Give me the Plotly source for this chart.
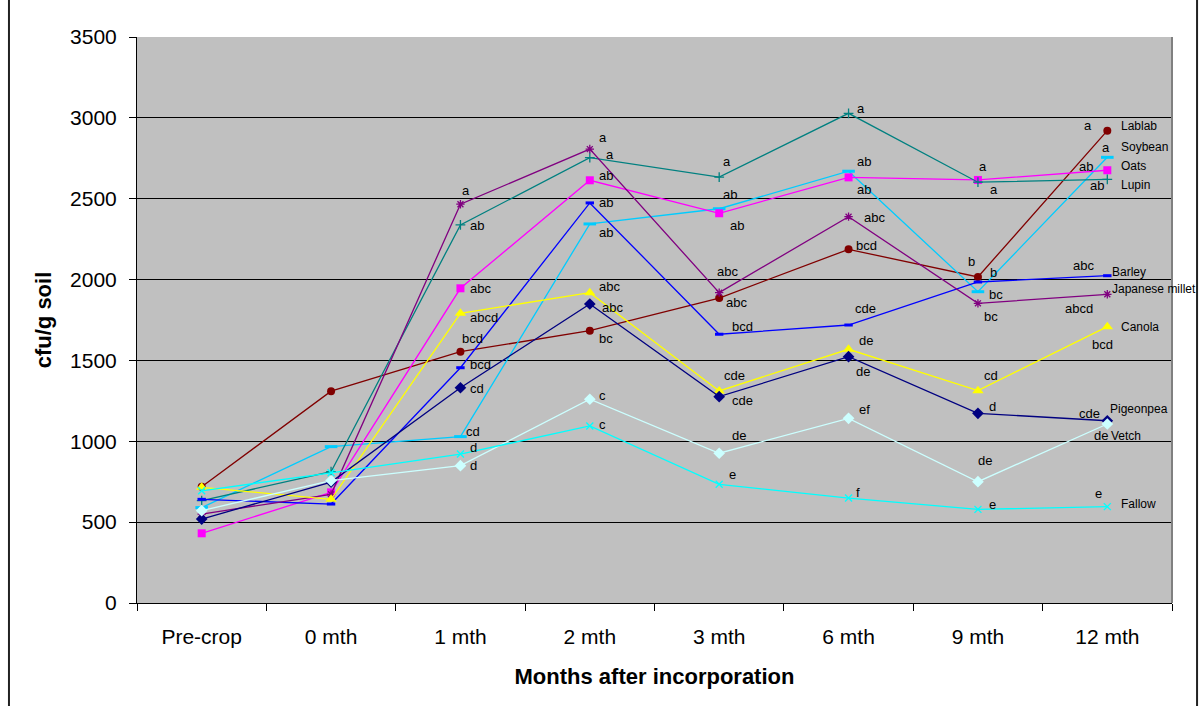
import plotly.graph_objects as go

categories = ["Pre-crop", "0 mth", "1 mth", "2 mth", "3 mth", "6 mth", "9 mth", "12 mth"]

lablab = [719, 1310, 1554, 1684, 1886, 2187, 2016, 2921]
soybean = [590, 967, 1029, 2344, 2438, 2670, 1925, 2756]
oats = [431, 684, 1946, 2614, 2410, 2632, 2616, 2676]
lupin = [633, 812, 2338, 2754, 2634, 3028, 2602, 2620]
barley = [641, 612, 1455, 2474, 1662, 1719, 1985, 2024]
japanese_millet = [550, 672, 2466, 2807, 1919, 2389, 1853, 1909]
canola = [715, 641, 1791, 1919, 1311, 1569, 1313, 1709]
pigeonpea = [519, 748, 1331, 1849, 1276, 1523, 1173, 1127]
vetch = [571, 757, 849, 1260, 926, 1142, 750, 1107]
fallow = [694, 805, 921, 1095, 734, 649, 579, 596]

series_names = ["Lablab", "Soybean", "Oats", "Lupin", "Barley", "Japanese millet",
                "Canola", "Pigeonpea", "Vetch", "Fallow"]
series_values = [lablab, soybean, oats, lupin, barley, japanese_millet,
                 canola, pigeonpea, vetch, fallow]

# significance letters per series per month
letters_lablab = ["", "", "bcd", "bc", "abc", "bcd", "b", "a"]
letters_soybean = ["", "", "cd", "ab", "ab", "ab", "bc", "a"]
letters_oats = ["", "", "abc", "ab", "ab", "ab", "a", "ab"]
letters_lupin = ["", "", "ab", "a", "a", "a", "a", "ab"]
letters_barley = ["", "", "bcd", "ab", "bcd", "cde", "b", "abc"]
letters_millet = ["", "", "a", "a", "abc", "abc", "bc", "abcd"]
letters_canola = ["", "", "abcd", "abc", "cde", "de", "cd", "bcd"]
letters_pigeonpea = ["", "", "cd", "abc", "cde", "de", "d", "cde"]
letters_vetch = ["", "", "d", "c", "de", "ef", "de", "de"]
letters_fallow = ["", "", "d", "c", "e", "f", "e", "e"]
series_letters = [letters_lablab, letters_soybean, letters_oats, letters_lupin, letters_barley,
                  letters_millet, letters_canola, letters_pigeonpea, letters_vetch, letters_fallow]

# ---- styles ----
colors = ["#800000", "#00CCFF", "#FF00FF", "#008080", "#0000FF", "#800080",
          "#FFFF00", "#000080", "#CCFFFF", "#00FFFF"]
markers = [
    dict(symbol="circle", size=8),
    dict(symbol="line-ew", size=9, line=dict(width=3)),
    dict(symbol="square", size=8),
    dict(symbol="cross-thin", size=7, line=dict(width=1.3)),
    dict(symbol="line-ew", size=6, line=dict(width=3)),
    dict(symbol="asterisk", size=7, line=dict(width=1.3)),
    dict(symbol="triangle-up", size=10),
    dict(symbol="diamond", size=9),
    dict(symbol="diamond", size=9),
    dict(symbol="x-thin", size=7, line=dict(width=1.3)),
]

# label offsets (anchor, dx px, dy px down) per series per month
label_pos = [
    [None, None, ("left", 0, -13), ("left", 7, 8), ("left", 5, 4), ("left", 5, -4), ("left", -12, -15), ("right", -13, -5)],
    [None, None, ("left", 4, -5), ("left", 7, 9), ("left", 2, -14), ("left", 6, -10), ("left", 9, 3), ("center", -1, -10)],
    [None, None, ("left", 8, 0), ("left", 7, -5), ("left", 9, 12), ("left", 6, 12), ("left", -1, -13), ("right", -12, -4)],
    [None, None, ("left", 8, 1), ("left", 14, -3), ("left", 2, -16), ("left", 6, -5), ("left", 10, 7), ("right", -1, 6)],
    [None, None, ("left", 8, -3), ("left", 7, 0), ("left", 11, -8), ("left", 4, -17), ("left", 10, -10), ("right", -11, -10)],
    [None, None, ("left", 0, -14), ("left", 7, -12), ("left", -4, -21), ("left", 13, 1), ("left", 4, 13), ("right", -12, 14)],
    [None, None, ("left", 8, 4), ("left", 7, -6), ("left", 3, -15), ("left", 8, -9), ("left", 4, -15), ("center", -5, 18)],
    [None, None, ("left", 8, 1), ("left", 10, 4), ("left", 11, 4), ("left", 5, 15), ("left", 9, -7), ("right", -5, -7)],
    [None, None, ("left", 8, 0), ("left", 7, -4), ("left", 11, -18), ("left", 8, -9), ("left", -2, -21), ("left", -15, 12)],
    [None, None, ("left", 8, -7), ("left", 7, -1), ("left", 8, -10), ("left", 5, -6), ("left", 9, -5), ("center", -9, -13)],
]
name_pos = [(12, -5), (12, -10), (12, -4), (12, 6), (3, -4), (3, -5), (12, 0), (1, -12), (2, 12), (12, -3)]

FONT = "Arial, Liberation Sans, sans-serif"

fig = go.Figure()
for name, vals, col, mk in zip(series_names, series_values, colors, markers):
    m = dict(mk)
    m["color"] = col
    if "line" in m:
        m["line"] = dict(m["line"], color=col)
    fig.add_trace(go.Scatter(x=categories, y=vals, mode="lines+markers", name=name,
                             line=dict(color=col, width=1.3), marker=m,
                             showlegend=False, hoverinfo="x+y+name"))

annotations = []
for si, (vals, lets) in enumerate(zip(series_values, series_letters)):
    for mi, txt in enumerate(lets):
        if not txt:
            continue
        anchor, dx, dy = label_pos[si][mi]
        annotations.append(dict(x=categories[mi], y=vals[mi], text=txt, showarrow=False,
                                xanchor=anchor, yanchor="middle", xshift=dx, yshift=-dy,
                                font=dict(family=FONT, size=13, color="#000000")))
    dx, dy = name_pos[si]
    annotations.append(dict(x=categories[-1], y=vals[-1], text=series_names[si], showarrow=False,
                            xanchor="left", yanchor="middle", xshift=dx, yshift=-dy,
                            font=dict(family=FONT, size=12, color="#000000")))

fig.update_layout(
    width=1200, height=706,
    margin=dict(l=137, r=28, t=37, b=103),
    paper_bgcolor="white",
    plot_bgcolor="#C0C0C0",
    font=dict(family=FONT, color="#000000"),
    annotations=annotations,
    shapes=[
        dict(type="rect", xref="paper", yref="paper", x0=-0.1237, x1=1.0242, y0=-0.19, y1=1.07,
             line=dict(color="#222222", width=2), layer="above"),
        dict(type="line", xref="paper", yref="paper", x0=1, x1=1, y0=0, y1=1,
             line=dict(color="#808080", width=2)),
    ],
    xaxis=dict(type="category", range=[-0.5, 7.5], autorange=False, tickson="boundaries",
               ticks="outside", ticklen=7,
               tickcolor="#000000", showline=True, linecolor="#000000", linewidth=1,
               showgrid=False, tickfont=dict(size=21), ticklabelstandoff=15,
               title=dict(text="<b>Months after incorporation</b>", font=dict(size=22), standoff=21)),
    yaxis=dict(range=[0, 3500], autorange=False, dtick=500, ticks="outside", ticklen=7, tickcolor="#000000",
               showline=True, linecolor="#000000", linewidth=1, showgrid=True,
               gridcolor="#000000", gridwidth=1, zeroline=False,
               tickfont=dict(size=21), ticklabelstandoff=8,
               title=dict(text="<b>cfu/g soil</b>", font=dict(size=22), standoff=12)),
)

fig.write_html("out.html", config={"displayModeBar": False},
               post_script="document.body.style.margin='0';")
